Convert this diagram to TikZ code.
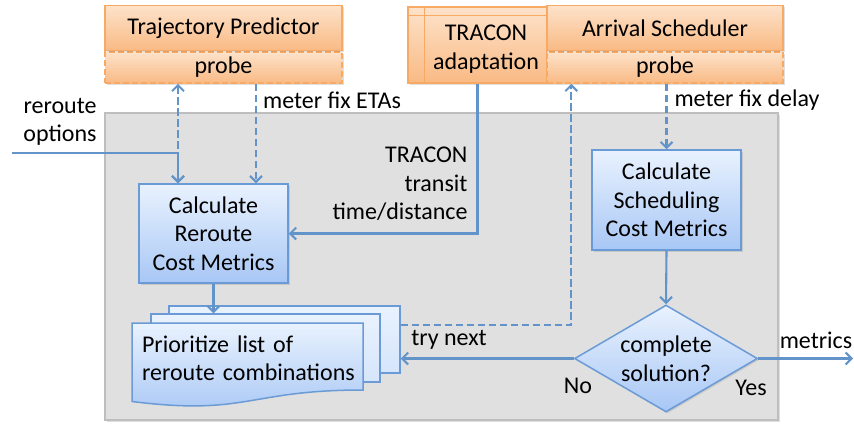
\documentclass[tikz,border=0pt]{standalone}
\usepackage{fontspec}
\setmainfont{Carlito}
\usetikzlibrary{positioning}
\usetikzlibrary{calc}
\usetikzlibrary{arrows.meta,shapes.geometric}
\usetikzlibrary{shadows}

\definecolor{linkblue}{RGB}{98,148,202}
\definecolor{boxblue}{RGB}{107,155,214}
\definecolor{bluetop}{RGB}{233,242,254}
\definecolor{bluebot}{RGB}{168,199,245}
\definecolor{orline}{RGB}{248,170,100}
\definecolor{ortop}{RGB}{253,226,202}
\definecolor{orbot}{RGB}{249,186,132}
\definecolor{panelfill}{RGB}{224,224,224}
\definecolor{panelline}{RGB}{190,190,190}

\tikzset{
  softshadow/.style={drop shadow={opacity=.25,shadow xshift=1.5pt,shadow yshift=-1.5pt}},
  sysbox/.style={draw=orline,line width=1.5pt,top color=ortop,bottom color=orbot,
    inner sep=0pt,minimum width=237pt,minimum height=45pt,softshadow},
  probebox/.style={sysbox,dash pattern=on 6pt off 3pt,minimum height=31pt},
  calcbox/.style={draw=boxblue,line width=1.5pt,top color=bluetop,bottom color=bluebot,
    inner sep=0pt,minimum width=149pt,minimum height=99pt,align=center,softshadow},
  pagebox/.style={draw=boxblue,line width=1.5pt,top color=bluetop,bottom color=bluetop!70!bluebot,
    inner sep=0pt},
  flow/.style={draw=linkblue,line width=2.1pt,-{Straight Barb[length=6pt,width=12pt]}},
  probeflow/.style={flow,dash pattern=on 7.5pt off 3.5pt}
}

\begin{document}
\begin{tikzpicture}[x=1pt,y=-1pt,font=\fontsize{24}{28.5}\selectfont]

\useasboundingbox (0,0) rectangle (854,426);

% work area
\node[draw=panelline,fill=panelfill,line width=1.2pt,minimum width=673pt,minimum height=307pt,
  inner sep=0pt,softshadow] (area) at (441.5,266.5) {};

% outside systems
\node[probebox] (tpprobe) at (223.5,67.5) {probe};
\node[sysbox,above=0pt of tpprobe] (tp) {Trajectory Predictor};

\node[sysbox,minimum width=139pt,minimum height=76pt] (tracon) at (477.5,45) {};
\draw[orline,line width=1.2pt] ([yshift=-9pt]tracon.north west) -- ([yshift=-9pt]tracon.north east)
  ([xshift=17pt]tracon.north west) -- ([xshift=17pt]tracon.south west);
\node[align=center] (tracontxt) at (486,49) {TRACON\\adaptation};

\node[probebox,minimum width=236pt] (asprobe) at (665,67.5) {probe};
\node[sysbox,minimum width=236pt,above=0pt of asprobe] (as) {Arrival Scheduler};

% processing steps
\node[calcbox] (rcm) at (213.5,233.5) {Calculate\\Reroute\\Cost Metrics};
\node[calcbox,minimum height=100pt] (scm) at (666.5,200) {Calculate\\Scheduling\\Cost Metrics};

% stacked list
\node[pagebox,minimum width=231pt,minimum height=67pt] (dback) at (284.5,339.5) {};
\node[pagebox,minimum width=229pt,minimum height=68pt] (dmid) at (265.5,348) {};
\path[draw=boxblue,line width=1.5pt,top color=bluetop,bottom color=bluebot]
  (132,323) -- (363,323) -- (363,390) .. controls (247.5,390) and (247.5,416) .. (132,401.5) -- cycle;
\node[text width=221pt,inner sep=0pt,align=left] (dfront) at (252.5,358) {Prioritize list of\\reroute combinations};

\node[diamond,draw=boxblue,line width=1.5pt,top color=bluetop,bottom color=bluebot,
  aspect=1.71,minimum width=183pt,minimum height=107pt,inner sep=0pt,align=center,softshadow]
  (dec) at (666,358.5) {complete\\solution?};

% connectors
\coordinate (rin) at (12,153);
\coordinate (rj) at (178,153);
\coordinate (mout) at (853,358.5);

\draw[flow] (rin) -- (rj) -- (rcm.north -| rj);
\draw[probeflow,{Straight Barb[length=6pt,width=12pt]}-{Straight Barb[length=6pt,width=12pt]}]
  (tpprobe.south -| rj) -- (rcm.north -| rj);
\draw[probeflow] ([xshift=42.5pt]rcm.north |- tpprobe.south) -- ([xshift=42.5pt]rcm.north);
\draw[flow] (tracon.south) |- (rcm.east);
\draw[probeflow] ([yshift=14.5pt]dback.east) -| ([xshift=25pt]asprobe.south west);
\draw[probeflow] (scm.north |- asprobe.south) -- (scm.north);
\draw[flow] (scm.south) -- (dec.north);
\draw[flow] (rcm.south) -- (rcm.south |- dmid.north);
\draw[flow] (dec.west) -- (dec.west -| dback.east);
\draw[flow] (dec.east) -- (mout);

% labels
\node[align=center] (ropt) at (60,122) {reroute\\options};
\node (etas) at (332,100) {meter fix ETAs};
\node (delay) at (747,100) {meter fix delay};
\node[align=right,anchor=east] (transit) at (471,184) {TRACON\\transit\\time/distance};
\node (trynext) at (449,340) {try next};
\node (metrics) at (816,340) {metrics};
\node (no) at (578,386) {No};
\node (yes) at (751,388) {Yes};

\end{tikzpicture}
\end{document}
